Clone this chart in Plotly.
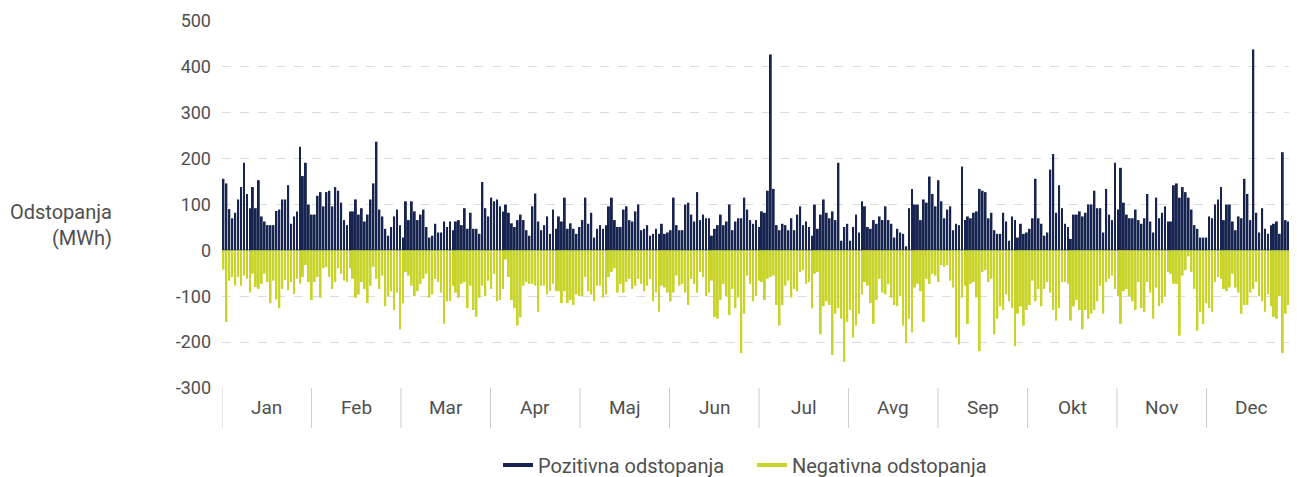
import plotly.graph_objects as go

months = ["Jan", "Feb", "Mar", "Apr", "Maj", "Jun", "Jul", "Avg", "Sep", "Okt", "Nov", "Dec"]

pos_jan = [156,146,90,70,82,111,138,191,123,92,138,92,153,74,63,55,55,55,86,89,111,111,142,58,74,85,226,162,191,100,78]
pos_feb = [78,119,127,96,127,130,96,138,130,104,66,55,85,85,111,78,92,63,78,111,146,237,89,74,47,32,51,74]
pos_mar = [89,55,28,107,66,107,85,66,78,89,51,28,32,58,39,39,63,51,63,44,63,66,55,92,47,82,47,47,36,149,92]
pos_apr = [74,115,107,111,96,85,100,82,59,51,66,78,66,44,32,96,124,63,44,55,74,36,89,47,74,63,115,47,59,47]
pos_maj = [36,51,66,115,58,82,28,47,55,47,55,96,115,66,51,51,89,96,66,63,85,100,44,47,55,32,36,47,36,58,36]
pos_jun = [39,44,115,55,44,44,100,104,78,63,127,66,78,70,70,32,47,55,78,55,63,100,44,63,70,70,115,89,66,58]
pos_jul = [66,51,85,82,130,427,134,55,44,58,55,44,70,44,78,96,55,63,51,32,100,47,78,111,82,70,85,66,191,21,51]
pos_avg = [58,21,51,78,39,107,96,51,47,66,58,74,66,96,66,58,28,47,39,36,9,92,134,100,100,66,111,104,161,123,96]
pos_sep = [153,107,70,89,96,44,58,55,183,66,74,70,82,85,134,130,127,70,82,44,36,36,82,63,21,74,66,28,58,36]
pos_okt = [39,47,70,156,70,58,32,39,176,210,82,142,92,58,51,25,78,78,85,74,82,100,100,130,92,92,39,134,78,66,191]
pos_nov = [89,180,104,78,70,70,89,66,58,70,123,63,39,115,70,82,96,63,63,142,146,115,138,127,115,89,55,47,28,28]
pos_dec = [28,74,70,100,111,138,66,100,100,63,44,74,70,156,123,66,438,82,39,92,47,36,55,58,63,36,214,66,63,63,39]

neg_jan = [-42,-156,-66,-58,-77,-58,-77,-55,-62,-92,-51,-80,-84,-73,-51,-69,-115,-66,-107,-126,-84,-65,-87,-69,-95,-62,-73,-58,-32,-69,-108]
neg_feb = [-69,-58,-103,-39,-36,-58,-84,-69,-39,-51,-66,-69,-39,-62,-103,-96,-69,-84,-115,-77,-36,-62,-84,-55,-122,-100,-89,-130]
neg_mar = [-92,-172,-115,-47,-55,-77,-100,-89,-73,-62,-51,-103,-96,-62,-69,-92,-160,-111,-111,-77,-92,-103,-73,-69,-126,-77,-130,-145,-103,-77,-100]
neg_apr = [-66,-84,-51,-111,-108,-84,-20,-58,-108,-126,-164,-146,-77,-69,-73,-73,-77,-134,-77,-77,-96,-89,-73,-89,-89,-115,-89,-115,-108,-119]
neg_maj = [-96,-100,-100,-58,-89,-96,-111,-77,-77,-103,-96,-58,-47,-39,-92,-73,-92,-69,-62,-84,-77,-62,-73,-89,-77,-62,-111,-92,-134,-77,-81]
neg_jun = [-92,-111,-92,-55,-77,-73,-92,-119,-62,-73,-92,-47,-58,-100,-92,-66,-145,-149,-108,-73,-100,-141,-84,-126,-103,-224,-138,-55,-73,-111]
neg_jul = [-100,-66,-69,-108,-62,-58,-55,-119,-164,-119,-77,-66,-103,-84,-89,-47,-43,-73,-69,-126,-51,-47,-183,-122,-111,-119,-228,-138,-126,-149,-243]
neg_avg = [-156,-130,-190,-164,-138,-96,-69,-77,-115,-160,-108,-62,-92,-96,-73,-103,-119,-122,-100,-164,-202,-149,-179,-81,-73,-89,-156,-62,-73,-51,-55]
neg_sep = [-69,-32,-36,-32,-66,-81,-190,-205,-103,-77,-160,-73,-69,-103,-220,-47,-43,-69,-62,-183,-149,-122,-130,-96,-111,-126,-209,-138,-122,-164]
neg_okt = [-130,-119,-66,-111,-84,-122,-84,-69,-92,-130,-153,-126,-69,-69,-73,-153,-122,-108,-130,-172,-130,-149,-138,-130,-111,-77,-138,-69,-62,-55,-84]
neg_nov = [-100,-160,-89,-84,-100,-111,-130,-69,-126,-134,-69,-92,-149,-81,-122,-115,-100,-47,-51,-73,-73,-186,-55,-43,-13,-47,-84,-175,-134,-160]
neg_dec = [-115,-126,-134,-69,-58,-62,-84,-89,-81,-51,-81,-92,-138,-119,-119,-92,-84,-69,-100,-111,-134,-96,-122,-145,-149,-100,-224,-138,-119,-138,-119]

y_ticks = [500, 400, 300, 200, 100, 0, -100, -200, -300]
y_tick_labels = ["500", "400", "300", "200", "100", "0", "-100", "-200", "-300"]

positive = (pos_jan + pos_feb + pos_mar + pos_apr + pos_maj + pos_jun +
            pos_jul + pos_avg + pos_sep + pos_okt + pos_nov + pos_dec)
negative = (neg_jan + neg_feb + neg_mar + neg_apr + neg_maj + neg_jun +
            neg_jul + neg_avg + neg_sep + neg_okt + neg_nov + neg_dec)
days = list(range(len(positive)))
n = len(days)

NAVY = "#17244f"
LIME = "#c8d42a"
FONT = "Roboto"
TXT = "#4f4f4f"

# the page body has an 8px margin, so the figure is sized/offset to compensate
W, H = 1289, 469
ML, MR, MT, MB = 214, 1, 13, 89
plot_w = W - ML - MR
plot_h = H - MT - MB

fig = go.Figure()
fig.add_trace(go.Bar(x=days, y=positive, marker=dict(color=NAVY, line=dict(width=0)),
                     showlegend=False, name="Pozitivna odstopanja"))
fig.add_trace(go.Bar(x=days, y=negative, marker=dict(color=LIME, line=dict(width=0)),
                     showlegend=False, name="Negativna odstopanja"))
# legend entries drawn as short thick lines
fig.add_trace(go.Scatter(x=[None], y=[None], mode="lines", line=dict(color=NAVY, width=4),
                         name="Pozitivna odstopanja"))
fig.add_trace(go.Scatter(x=[None], y=[None], mode="lines", line=dict(color=LIME, width=4),
                         name="Negativna odstopanja"))

seg = n / 12.0
shapes = []
annotations = []
for i, m in enumerate(months):
    x0 = -0.5 + i * seg
    shapes.append(dict(type="line", xref="x", yref="paper", x0=x0, x1=x0,
                       y0=0, y1=-40 / plot_h, line=dict(color="#cfcfcf", width=1)))
    annotations.append(dict(text=m, xref="x", yref="paper", x=x0 + seg / 2, y=-20 / plot_h,
                            xanchor="center", yanchor="middle", showarrow=False,
                            font=dict(family=FONT, size=19, color=TXT)))
shapes.append(dict(type="line", xref="x", yref="paper", x0=n - 0.5, x1=n - 0.5,
                   y0=0, y1=-40 / plot_h, line=dict(color="#cfcfcf", width=1)))

annotations.append(dict(text="Odstopanja<br>(MWh)", xref="paper", yref="y",
                        x=(106 - ML) / plot_w, y=55, xanchor="right", yanchor="middle",
                        align="right", showarrow=False,
                        font=dict(family=FONT, size=20, color=TXT)))

fig.update_layout(
    width=W, height=H,
    margin=dict(l=ML, r=MR, t=MT, b=MB, autoexpand=False),
    paper_bgcolor="white", plot_bgcolor="white",
    barmode="relative", bargap=0.35,
    font=dict(family=FONT, size=18, color=TXT),
    shapes=shapes, annotations=annotations,
    legend=dict(orientation="h", x=(490 - ML) / plot_w, xanchor="left",
                y=-77 / plot_h, yanchor="middle",
                font=dict(family=FONT, size=20, color=TXT),
                entrywidth=209, entrywidthmode="pixels",
                itemwidth=30, tracegroupgap=0),
    xaxis=dict(range=[-0.5, n - 0.5], showticklabels=False, showgrid=False,
               zeroline=False, showline=False, ticks="", automargin=False),
    yaxis=dict(range=[-300, 500], tickvals=y_ticks, ticktext=y_tick_labels,
               showgrid=True, gridcolor="#dcdcdc", griddash="dash", gridwidth=1,
               zeroline=True, zerolinecolor="#b4b4bc", zerolinewidth=2,
               showline=False, ticks="", ticklabelstandoff=10, automargin=False,
               tickfont=dict(family=FONT, size=18, color=TXT)),
)

fig.write_html("out.html")
